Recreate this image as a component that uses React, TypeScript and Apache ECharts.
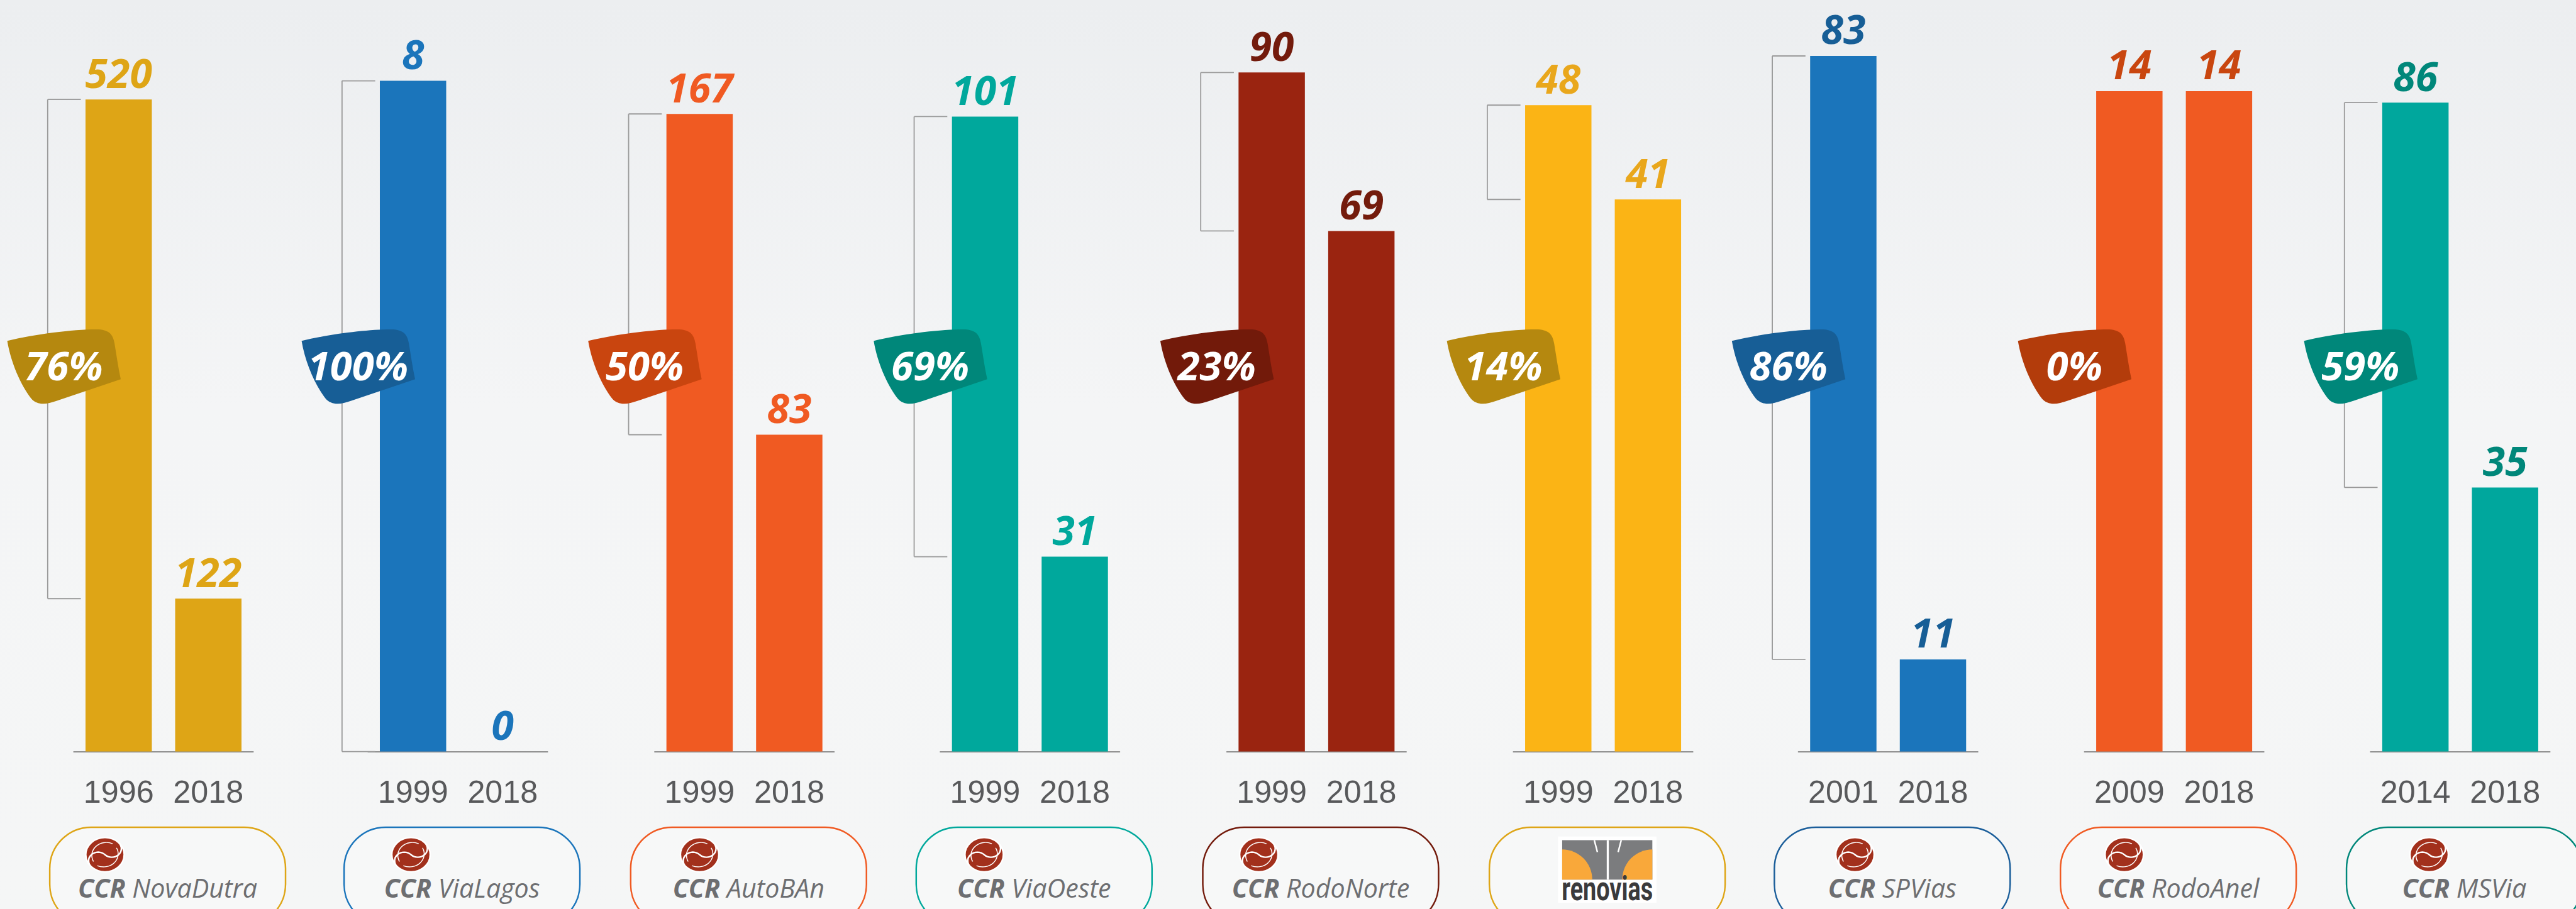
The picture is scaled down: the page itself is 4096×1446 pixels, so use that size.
import React, { useEffect, useRef } from "react";
import * as echarts from "echarts";

const W = 4096;
const H = 1446;
const s = 0.824;
const S = (v: number) => v * s;

// ---- data ----
const names = ["NovaDutra", "ViaLagos", "AutoBAn", "ViaOeste", "RodoNorte", "renovias", "SPVias", "RodoAnel", "MSVia"];
const startYears = ["1996", "1999", "1999", "1999", "1999", "1999", "2001", "2009", "2014"];
const endYears = ["2018", "2018", "2018", "2018", "2018", "2018", "2018", "2018", "2018"];
const startValues = [520, 8, 167, 101, 90, 48, 83, 14, 86];
const endValues = [122, 0, 83, 31, 69, 41, 11, 14, 35];
const reductionPct = [76, 100, 50, 69, 23, 14, 86, 0, 59];

// ---- colours ----
const barColors = ["#DEA516", "#1B75BB", "#F05A22", "#00A89C", "#9A2410", "#FBB415", "#1B75BB", "#F05A22", "#00A79D"];
const labelColors = ["#DEA516", "#1B75BB", "#F05A22", "#00A89C", "#731B0C", "#E9A71C", "#175E96", "#C9460F", "#00877A"];
const badgeColors = ["#B5880F", "#175E96", "#C9450F", "#00877A", "#721A0A", "#B5880F", "#175E96", "#B33C0B", "#00877A"];
const pillColors = ["#DEA516", "#1B75BB", "#F05A22", "#00A89C", "#731B0C", "#DEA516", "#1B5E9A", "#F05A22", "#00877A"];

// ---- layout (reference pixels) ----
const barLeft = [165, 733, 1286, 1837, 2390, 2943, 3493, 4045, 4597];
const plotTop = [192, 156, 220, 225, 140, 203, 108, 176, 198];
const baseY = 1451;
const barW = 128;
const gridW = 346;

const ribbonPath =
  "M0,23 C55,10 125,1 172,1 C196,1 204,10 207,28 C211,52 214,74 219,97 L95,139 C75,146 58,148 46,134 C26,108 7,65 0,23 Z";
const swirlPath =
  "M85.36,14.64 A50,50 0 0,1 14.64,85.36 A25,25 0 0,1 50,50 A25,25 0 0,0 85.36,14.64 Z M14.64,85.36 A50,50 0 0,1 85.36,14.64 A25,25 0 0,1 50,50 A25,25 0 0,0 14.64,85.36 Z";
const swirlLines = "M80,30 A38,38 0 0,1 30,82 M20,70 A38,38 0 0,1 70,18";
echarts.graphic.registerShape("ribbon", echarts.graphic.extendPath(ribbonPath, {}));
echarts.graphic.registerShape("ccrSwirl", echarts.graphic.extendPath(swirlPath, {}));
echarts.graphic.registerShape("ccrLines", echarts.graphic.extendPath(swirlLines, {}));

const numFont = '"Open Sans", "Noto Sans", sans-serif';
const logoFont = '"Open Sans", "Noto Sans", sans-serif';

function measure(text: string, font: string): number {
  const c = document.createElement("canvas");
  const ctx = c.getContext("2d");
  if (!ctx) return text.length * 20;
  ctx.font = font;
  return ctx.measureText(text).width;
}

function buildOption(): any {
  const idx = names.map((_, i) => i);
  const grids = idx.map((i) => ({
    left: S(barLeft[i] + barW / 2 - gridW / 4),
    top: S(plotTop[i]),
    width: S(gridW),
    height: S(baseY - plotTop[i]),
  }));

  const xAxis = idx.map((i) => ({
    type: "category",
    gridIndex: i,
    data: [startYears[i], endYears[i]],
    axisLine: { show: true, lineStyle: { color: "#8E8E8E", width: S(2.5) } },
    axisTick: { show: false },
    axisLabel: {
      interval: 0,
      hideOverlap: false,
      fontSize: S(61),
      color: "#58595B",
      margin: S(48),
      fontFamily: '"Liberation Sans", Arial, sans-serif',
    },
  }));
  const yAxis = idx.map((i) => ({
    type: "value",
    gridIndex: i,
    min: 0,
    max: startValues[i],
    show: false,
    splitLine: { show: false },
  }));

  const bars = idx.map((i) => ({
    type: "bar",
    xAxisIndex: i,
    yAxisIndex: i,
    data: [startValues[i], endValues[i]],
    barWidth: S(barW),
    itemStyle: { color: barColors[i] },
    label: {
      show: true,
      position: "top",
      distance: S(14),
      fontSize: S(78),
      fontWeight: "bold",
      fontStyle: "italic",
      fontFamily: numFont,
      color: labelColors[i],
    },
    z: 2,
  }));

  const brackets = idx
    .filter((i) => startValues[i] !== endValues[i])
    .map((i) => ({
      type: "custom",
      xAxisIndex: i,
      yAxisIndex: i,
      data: [[0, startValues[i], endValues[i]]],
      encode: { x: 0, y: [1, 2] },
      clip: false,
      z: 1,
      renderItem: (params: any, api: any) => {
        const top = api.coord([0, api.value(1)]);
        const bot = api.coord([0, api.value(2)]);
        const left = top[0] - S(barW) / 2;
        const xv = left - S(73);
        const xt = left - S(9);
        const st = { stroke: "#9A9A9A", lineWidth: S(2.2) };
        return {
          type: "group",
          children: [
            { type: "line", shape: { x1: xv, y1: top[1], x2: xv, y2: bot[1] }, style: st },
            { type: "line", shape: { x1: xv, y1: top[1], x2: xt, y2: top[1] }, style: st },
            { type: "line", shape: { x1: xv, y1: bot[1], x2: xt, y2: bot[1] }, style: st },
          ],
        };
      },
    }));

  const elements: any[] = [];
  idx.forEach((i) => {
    // percentage ribbon
    const bx = barLeft[i] - 151;
    const by = 635;
    elements.push({
      type: "group",
      x: S(bx),
      y: S(by),
      z: 20,
      children: [
        { type: "ribbon", scaleX: s, scaleY: s, style: { fill: badgeColors[i] }, z: 20 },
        {
          type: "text",
          x: S(109),
          y: S(69),
          z: 21,
          style: {
            text: reductionPct[i] + "%",
            fontSize: S(77),
            fontWeight: "bold",
            fontStyle: "italic",
            fontFamily: numFont,
            fill: "#FFFFFF",
            align: "center",
            verticalAlign: "middle",
          },
        },
      ],
    });

    // logo pill
    const pc = barLeft[i] + 158.5;
    elements.push({
      type: "rect",
      z: 5,
      shape: { x: S(pc - 227.5), y: S(1597), width: S(455), height: S(190), r: S(80) },
      style: { fill: "rgba(255,255,255,0.25)", stroke: pillColors[i], lineWidth: S(3) },
    });

    if (names[i] === "renovias") {
      const L = pc - 95;
      const T = 1615;
      elements.push({
        type: "rect",
        z: 6,
        shape: { x: S(L), y: S(T), width: S(190), height: S(128) },
        style: { fill: "#FFFFFF" },
      });
      elements.push({
        type: "rect",
        z: 7,
        shape: { x: S(L + 8), y: S(T + 7), width: S(174), height: S(76) },
        style: { fill: "#7B7C7E" },
      });
      elements.push({
        type: "sector",
        z: 8,
        shape: { cx: S(L + 8), cy: S(T + 83), r: S(58), r0: 0, startAngle: -Math.PI / 2, endAngle: 0, clockwise: true },
        style: { fill: "#F9A83A" },
      });
      elements.push({
        type: "sector",
        z: 8,
        shape: { cx: S(L + 182), cy: S(T + 83), r: S(58), r0: 0, startAngle: Math.PI, endAngle: Math.PI * 1.5, clockwise: true },
        style: { fill: "#F9A83A" },
      });
      elements.push({
        type: "line",
        z: 9,
        shape: { x1: S(L + 96), y1: S(T + 7), x2: S(L + 96), y2: S(T + 83) },
        style: { stroke: "#FFFFFF", lineWidth: S(4) },
      });
      elements.push({
        type: "line",
        z: 9,
        shape: { x1: S(L + 70), y1: S(T + 7), x2: S(L + 76), y2: S(T + 30) },
        style: { stroke: "#FFFFFF", lineWidth: S(3) },
      });
      elements.push({
        type: "line",
        z: 9,
        shape: { x1: S(L + 122), y1: S(T + 7), x2: S(L + 116), y2: S(T + 30) },
        style: { stroke: "#FFFFFF", lineWidth: S(3) },
      });
      const rf = S(64);
      const rw = measure("renovias", `bold ${rf}px Roboto`);
      elements.push({
        type: "text",
        z: 9,
        x: S(pc),
        y: S(T + 100),
        scaleX: rw > 0 ? S(176) / rw : 0.7,
        style: {
          text: "renovias",
          fontSize: rf,
          fontWeight: "bold",
          fontFamily: "Roboto, sans-serif",
          fill: "#3A3A3C",
          align: "center",
          verticalAlign: "middle",
        },
      });
    } else {
      const fs = S(50);
      const wB = measure("CCR", `italic bold ${fs}px ${logoFont}`);
      const wN = measure(" " + names[i], `italic ${fs}px ${logoFont}`);
      const tw = wB + wN;
      const textLeft = S(pc) - tw / 2;
      elements.push({
        type: "text",
        z: 6,
        x: S(pc),
        y: S(1713),
        style: {
          text: "{b|CCR}{n| " + names[i] + "}",
          align: "center",
          verticalAlign: "middle",
          fontSize: fs,
          fontFamily: logoFont,
          fill: "#6D6E71",
          rich: {
            b: { fontSize: fs, fontWeight: "bold", fontStyle: "italic", fontFamily: logoFont, fill: "#6D6E71" },
            n: { fontSize: fs, fontStyle: "italic", fontFamily: logoFont, fill: "#6D6E71" },
          },
        },
      });
      elements.push({
        type: "ccrSwirl",
        z: 7,
        x: textLeft + S(15),
        y: S(1617),
        scaleX: S(0.74),
        scaleY: S(0.66),
        style: { fill: "#A2301C", stroke: "#FFFFFF", lineWidth: 4 },
      });
      elements.push({
        type: "ccrLines",
        z: 8,
        x: textLeft + S(15),
        y: S(1617),
        scaleX: S(0.74),
        scaleY: S(0.66),
        style: { fill: "none", stroke: "#FFFFFF", lineWidth: 2.5 },
      });
    }
  });

  return {
    animation: false,
    backgroundColor: "transparent",
    grid: grids,
    xAxis,
    yAxis,
    series: [...bars, ...brackets],
    graphic: { elements },
  };
}

export default function App() {
  const ref = useRef<HTMLDivElement>(null);
  useEffect(() => {
    if (!ref.current) return;
    const chart = echarts.init(ref.current, null, { renderer: "svg" });
    chart.setOption(buildOption());
    return () => chart.dispose();
  }, []);
  return (
    <div
      ref={ref}
      style={{
        position: "absolute",
        left: 0,
        top: 0,
        width: W,
        height: H,
        background: "linear-gradient(180deg, #ECEEF0 0%, #F4F5F6 45%, #F5F6F6 100%)",
      }}
    />
  );
}
